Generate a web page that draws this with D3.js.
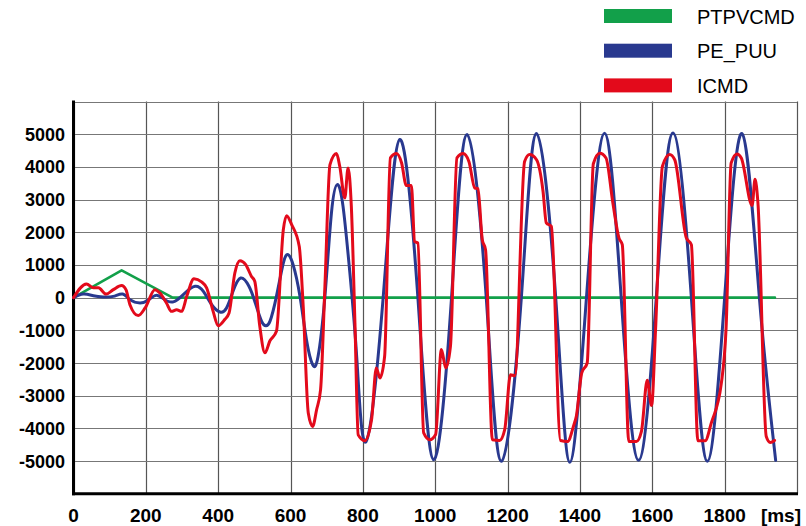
<!DOCTYPE html>
<html lang="en">
<head>
    <meta charset="utf-8">
    <title>PTPVCMD / PE_PUU / ICMD</title>
    <script src="https://d3js.org/d3.v7.min.js" charset="utf-8"></script>
    <style>
        body { margin: 0; background: #fff; }
    </style>
</head>
<body>

    <script>

    // time [ms], value
    var ptpvcmdT = [0, 133, 274, 1939]
    var ptpvcmdV = [0, 836, 0, 0]

    var peT = [0, 27, 55, 82, 110, 136, 156, 184, 207, 228, 248, 276, 308, 336, 359, 382, 405, 423, 441, 462, 485, 501, 520, 532, 543, 561, 580, 593, 607, 626, 644, 661, 676, 695, 713, 729, 745, 764, 784, 809, 856, 902, 952, 996, 1045, 1088, 1141, 1183, 1238, 1280, 1333, 1372, 1418, 1468, 1514, 1562, 1611, 1657, 1708, 1752, 1800, 1848, 1896, 1941]
    var peV = [0, 110, 60, 20, 40, 110, -60, -160, -70, 70, -30, -130, 140, 350, 195, -215, -440, -315, 195, 600, 350, -110, -725, -860, -725, 40, 1060, 1316, 1010, 40, -1285, -2050, -1800, 40, 2590, 3460, 2800, 755, -2000, -4400, 0, 4840, 0, -4960, 0, 4990, 0, -5010, 0, 5020, 0, -5040, 0, 5030, 0, -4980, 0, 5040, 0, -5010, 0, 5020, 0, -4980]

    var icmdT = [0, 36, 55, 69, 90, 110, 133, 145, 156, 179, 198, 225, 239, 257, 271, 285, 299, 313, 333, 354, 368, 386, 400, 418, 430, 446, 460, 476, 492, 501, 515, 529, 543, 561, 580, 589, 603, 624, 635, 649, 661, 672, 683, 695, 709, 727, 736, 750, 759, 768, 778, 787, 805, 824, 837, 847, 860, 876, 893, 907, 920, 934, 943, 952, 968, 985, 1001, 1017, 1029, 1042, 1060, 1077, 1093, 1109, 1118, 1130, 1139, 1158, 1178, 1192, 1208, 1220, 1247, 1261, 1280, 1298, 1307, 1321, 1346, 1366, 1383, 1390, 1405, 1420, 1437, 1455, 1472, 1491, 1508, 1517, 1535, 1556, 1570, 1586, 1598, 1609, 1628, 1648, 1662, 1694, 1708, 1726, 1746, 1763, 1791, 1804, 1818, 1834, 1846, 1876, 1884, 1892, 1915, 1926, 1938]
    var icmdV = [0, 420, 300, 300, 110, 245, 370, 245, -215, -550, -316, 245, 140, -165, -420, -370, -420, 40, 580, 480, 300, -420, -860, -670, -470, 755, 1130, 1010, 650, 500, -880, -1690, -1320, -1030, 2080, 2510, 2235, 1570, -265, -3530, -3940, -3430, -2815, 350, 4070, 4410, 4020, 3050, 3970, 2800, -775, -4200, -4380, -3730, -2150, -2460, -1800, 4275, 4410, 4120, 3430, 3430, 1720, 1670, -4140, -4350, -4190, -1590, -2150, -1490, 4275, 4410, 4170, 3360, 3330, 1775, 1470, -4350, -4370, -4040, -2360, -2390, 4170, 4380, 4220, 3250, 2290, 2180, -4370, -4400, -3900, -3630, -2300, -2000, 4100, 4420, 4275, 2900, 1820, 1620, -4400, -4400, -4090, -2530, -3300, -980, 4020, 4380, 4220, 1830, 1620, -4380, -4380, -3840, -2610, -930, 4120, 4400, 4275, 2820, 3620, 2900, -4250, -4430, -4370]

    var xTicks = [0, 200, 400, 600, 800, 1000, 1200, 1400, 1600, 1800]
    var yTicks = [-5000, -4000, -3000, -2000, -1000, 0, 1000, 2000, 3000, 4000, 5000]
    var seriesNames = ["PTPVCMD", "PE_PUU", "ICMD"]
    var seriesColors = ["#12a04a", "#29398f", "#e30a1b"]

    var w = 806
    var h = 526

    var xScale = d3.scaleLinear().domain([0, 2000]).range([73.5, 797])
    var yScale = d3.scaleLinear().domain([-6000, 6000]).range([493.7, 101.6])

    var svg = d3.select("body").append("svg").attr("width", w).attr("height", h)

    // grid
    var gridX = xTicks.concat([2000])
    var gridY = yTicks.concat([6000])
    svg.append("g").selectAll("line").data(gridX).enter().append("line")
        .attr("x1", function(d){return Math.round(xScale(d)) + 0.5})
        .attr("x2", function(d){return Math.round(xScale(d)) + 0.5})
        .attr("y1", yScale(6000)).attr("y2", yScale(-6000))
        .attr("stroke", "#555").attr("stroke-width", 1.2)
    svg.append("g").selectAll("line").data(gridY).enter().append("line")
        .attr("x1", xScale(0)).attr("x2", xScale(2000))
        .attr("y1", function(d){return Math.round(yScale(d)) + 0.5})
        .attr("y2", function(d){return Math.round(yScale(d)) + 0.5})
        .attr("stroke", "#777").attr("stroke-width", 1.2)

    // axes lines
    svg.append("line").attr("x1", xScale(0)).attr("x2", xScale(0))
        .attr("y1", yScale(6000) - 1).attr("y2", yScale(-6000) + 1.5)
        .attr("stroke", "#000").attr("stroke-width", 3)
    svg.append("line").attr("x1", xScale(0) - 1.5).attr("x2", xScale(2000) + 1)
        .attr("y1", yScale(-6000)).attr("y2", yScale(-6000))
        .attr("stroke", "#000").attr("stroke-width", 3)

    // tick labels
    svg.append("g").selectAll("text").data(yTicks).enter().append("text")
        .attr("x", 65).attr("y", function(d){return yScale(d) + 6.5})
        .attr("text-anchor", "end")
        .attr("font-family", "Liberation Sans, Arial, sans-serif").attr("font-weight", "bold").attr("font-size", 18)
        .text(function(d){return d})
    svg.append("g").selectAll("text").data(xTicks).enter().append("text")
        .attr("x", function(d){return xScale(d)}).attr("y", 522)
        .attr("text-anchor", "middle")
        .attr("font-family", "Liberation Sans, Arial, sans-serif").attr("font-weight", "bold").attr("font-size", 19)
        .text(function(d){return d})
    svg.append("text").attr("x", 801).attr("y", 522).attr("text-anchor", "end")
        .attr("font-family", "Liberation Sans, Arial, sans-serif").attr("font-weight", "bold").attr("font-size", 19)
        .text("[ms]")

    // lines
    function buildLine(ts, vs, curve, color, width) {
        var pts = ts.map(function(t, i){return [t, vs[i]]})
        var line = d3.line()
            .x(function(d){return xScale(d[0])})
            .y(function(d){return yScale(d[1])})
            .curve(curve)
        svg.append("path").datum(pts).attr("d", line).attr("fill", "none")
            .attr("stroke", color).attr("stroke-width", width)
            .attr("stroke-linejoin", "round").attr("stroke-linecap", "round")
    }

    buildLine(ptpvcmdT, ptpvcmdV, d3.curveLinear, seriesColors[0], 2.6)
    buildLine(peT, peV, d3.curveNatural, seriesColors[1], 3)
    buildLine(icmdT, icmdV, d3.curveMonotoneX, seriesColors[2], 3)

    // legend
    var legend = svg.append("g").selectAll("g").data(seriesNames).enter().append("g")
        .attr("transform", function(d, i){return "translate(604," + (9 + i * 34.7) + ")"})
    legend.append("rect").attr("width", 68).attr("height", 14)
        .attr("fill", function(d, i){return seriesColors[i]})
    legend.append("text").attr("x", 93).attr("y", 14.5)
        .attr("font-family", "Liberation Sans, Arial, sans-serif").attr("font-size", 20)
        .text(function(d){return d})

    </script>

</body>
</html>
